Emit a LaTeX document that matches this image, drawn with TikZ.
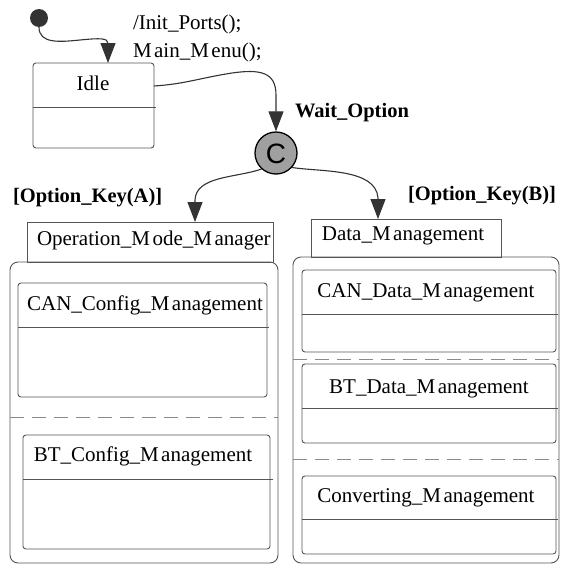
\documentclass[tikz,border=0pt]{standalone}
\usepackage{fontspec}
\setmainfont{Liberation Serif}
\newfontfamily\csans{Liberation Sans}
\usetikzlibrary{arrows.meta}
\definecolor{edgeg}{HTML}{555555}
\definecolor{lineg}{HTML}{333333}
\definecolor{dashg}{HTML}{8A8A8A}
\definecolor{choiceg}{HTML}{A0A0A0}
\newcommand{\Mk}{M\kern2.5pt}
\tikzset{
  boxst/.style={draw=edgeg, line width=0.9pt, rounded corners=3pt, inner sep=0pt, outer sep=0pt},
  tabst/.style={draw=edgeg, line width=0.9pt, inner sep=0pt, outer sep=0pt},
  contst/.style={draw=edgeg, line width=0.9pt, rounded corners=8pt, inner sep=0pt, outer sep=0pt},
  divst/.style={draw=edgeg, line width=0.9pt},
  sepst/.style={draw=dashg, line width=0.8pt, dash pattern=on 14pt off 8pt},
  conn/.style={draw=lineg, line width=1.1pt, -{Triangle[length=20pt,width=15pt]}},
  txt/.style={inner sep=0pt, outer sep=0pt, font=\fontsize{21}{25}\selectfont},
  btxt/.style={inner sep=0pt, outer sep=0pt, font=\fontsize{20.5}{24}\selectfont\bfseries},
}
\begin{document}
\begin{tikzpicture}[x=1pt,y=-1pt]
\useasboundingbox (0,0) rectangle (560,565);
% initial
\node[circle, fill=lineg, minimum size=18pt, inner sep=0pt] (init) at (39,18) {};
\coordinate (idleIn) at (108,63);
% Idle state
\node[boxst, minimum width=121pt, minimum height=85pt] (idle) at (93.5,105.5) {};
\draw[divst] (33,107) -- (156,107);
\node[txt, anchor=base] (idletxt) at (93,90) {Idle};
\node[txt, anchor=base west] (initlbl) at (133,29) {/Init\_Ports();};
\node[txt, anchor=base west] (menulbl) at (133,57) {\Mk ain\_\Mk enu();};
% choice
\node[circle, draw=black, line width=1.3pt, fill=choiceg, minimum size=42pt, inner sep=0pt] (ch) at (276,153) {};
\node[inner sep=0pt, font=\fontsize{28}{30}\csans] (chtxt) at (276,153.5) {C};
\node[btxt, anchor=base west] (waitlbl) at (295,117) {Wait\_Option};
\node[btxt, anchor=base west] (optA) at (13,202) {[Option\_Key(A)]};
\node[btxt, anchor=base west] (optB) at (408,200) {[Option\_Key(B)]};
% connectors
\draw[conn] (init.south) .. controls (39,44) and (60,42) .. (80,40) .. controls (100,38) and (108,38) .. (idleIn);
\draw[conn] (idle.north east) ++(0,23) .. controls (185,84) and (200,78) .. (232,73) .. controls (260,69) and (276,72) .. (276,95) -- (ch.north);
% left container
\node[tabst, minimum width=246pt, minimum height=40pt] (omTab) at (150,242) {};
\begin{scope}
\clip (omTab.south west) rectangle (omTab.north east);
\node[txt, anchor=base west] (omtxt) at (37,245) {Operation\_\Mk ode\_\Mk anager};
\end{scope}
\node[contst, minimum width=268pt, minimum height=301pt] (omCont) at (144,412.5) {};
\coordinate (omIn) at (195,222);
\draw[conn] (ch.228) .. controls (235,178) and (196,176) .. (195,200) -- (omIn);
\node[boxst, minimum width=249pt, minimum height=114pt] (canCfg) at (142.5,340) {};
\draw[divst] (18,327) -- (269,327);
\node[txt, anchor=base] (canCfgTxt) at (145,310) {CAN\_Config\_\Mk anagement};
\draw[sepst] (10,417) -- (278,417);
\node[boxst, minimum width=247pt, minimum height=114pt] (btCfg) at (146.5,492) {};
\draw[divst] (23,479) -- (273,479);
\node[txt, anchor=base] (btCfgTxt) at (143,461) {BT\_Config\_\Mk anagement};
% right container
\node[tabst, minimum width=190pt, minimum height=38pt] (dmTab) at (406,238) {};
\node[txt, anchor=base] (dmtxt) at (403,240) {Data\_\Mk anagement};
\node[contst, minimum width=266pt, minimum height=306pt] (dmCont) at (426,410) {};
\coordinate (dmIn) at (378,219);
\draw[conn] (ch.-42) .. controls (320,172) and (376,168) .. (378,198) -- (dmIn);
\node[boxst, minimum width=254pt, minimum height=82pt] (canData) at (429,311) {};
\draw[divst] (302,314) -- (558,314);
\node[txt, anchor=base] (canDataTxt) at (426,297) {CAN\_Data\_\Mk anagement};
\draw[sepst] (293,359) -- (559,359);
\node[boxst, minimum width=254pt, minimum height=79pt] (btData) at (429,403.5) {};
\draw[divst] (302,408) -- (558,408);
\node[txt, anchor=base] (btDataTxt) at (429,393) {BT\_Data\_\Mk anagement};
\draw[sepst] (293,459) -- (559,459);
\node[boxst, minimum width=254pt, minimum height=78pt] (conv) at (429,515) {};
\draw[divst] (302,519) -- (558,519);
\node[txt, anchor=base] (convTxt) at (426,502) {Converting\_\Mk anagement};
\end{tikzpicture}
\end{document}
